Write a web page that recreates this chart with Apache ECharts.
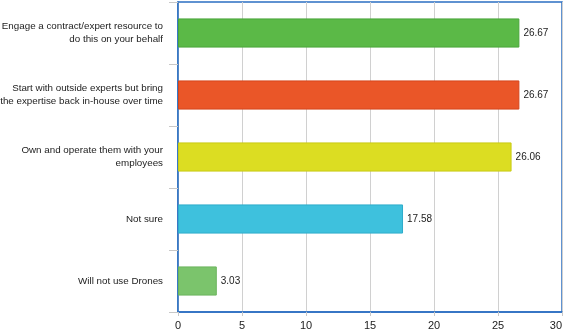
<!DOCTYPE html>
<html><head><meta charset="utf-8">
<script src="https://cdn.jsdelivr.net/npm/echarts@6/dist/echarts.min.js"></script>
<style>html,body{margin:0;padding:0;background:#fff}#c{width:565px;height:334px}</style>
</head><body><div id="c"></div>
<script>
const categories = [
  "Engage a contract/expert resource to\ndo this on your behalf",
  "Start with outside experts but bring\nthe expertise back in-house over time",
  "Own and operate them with your\nemployees",
  "Not sure",
  "Will not use Drones"
];
const values = [26.67, 26.67, 26.06, 17.58, 3.03];
const colors = ["#5bb947", "#ea5628", "#dcdd22", "#3ec1dd", "#7bc46c"];
const borders = ["#4aa63a", "#d4461c", "#c9ca14", "#2eaccb", "#6ab35c"];
const xTicks = [0, 5, 10, 15, 20, 25, 30];

const chart = echarts.init(document.getElementById('c'), null, {renderer: 'canvas'});
chart.setOption({
  animation: false,
  grid: {left: 178, right: 3, top: 2, bottom: 22, show: true, borderColor: '#2b6fc2', borderWidth: 1.5, containLabel: false, outerBoundsMode: 'none'},
  xAxis: {
    type: 'value', min: xTicks[0], max: xTicks[xTicks.length - 1], interval: 5,
    axisLine: {show: true, lineStyle: {color: '#2b6fc2', width: 1.5}},
    axisTick: {show: true, length: 4, lineStyle: {color: '#c8c8c8'}},
    splitLine: {show: true, lineStyle: {color: '#d0d0d0', width: 1}},
    axisLabel: {color: '#222', fontFamily: 'Liberation Sans', fontSize: 11, margin: 8, alignMaxLabel: 'right',
      formatter: v => xTicks.includes(v) ? String(v) : ''}
  },
  yAxis: {
    type: 'category', data: categories, inverse: true,
    axisLine: {show: true, lineStyle: {color: '#2b6fc2', width: 1.5}},
    axisTick: {show: true, length: 9, lineStyle: {color: '#c8c8c8'}},
    axisLabel: {color: '#222', fontFamily: 'Liberation Sans', fontSize: 9.8, margin: 15, lineHeight: 13, align: 'right', padding: [4, 0, 0, 0]}
  },
  series: [{
    type: 'bar', barWidth: '47%',
    data: values.map((v, i) => ({value: v, itemStyle: {color: colors[i], borderColor: borders[i], borderWidth: 1}})),
    label: {show: true, position: 'right', distance: 4, color: '#222', fontFamily: 'Liberation Sans', fontSize: 10,
      formatter: p => p.value.toFixed(2)}
  }]
});
</script></body></html>
